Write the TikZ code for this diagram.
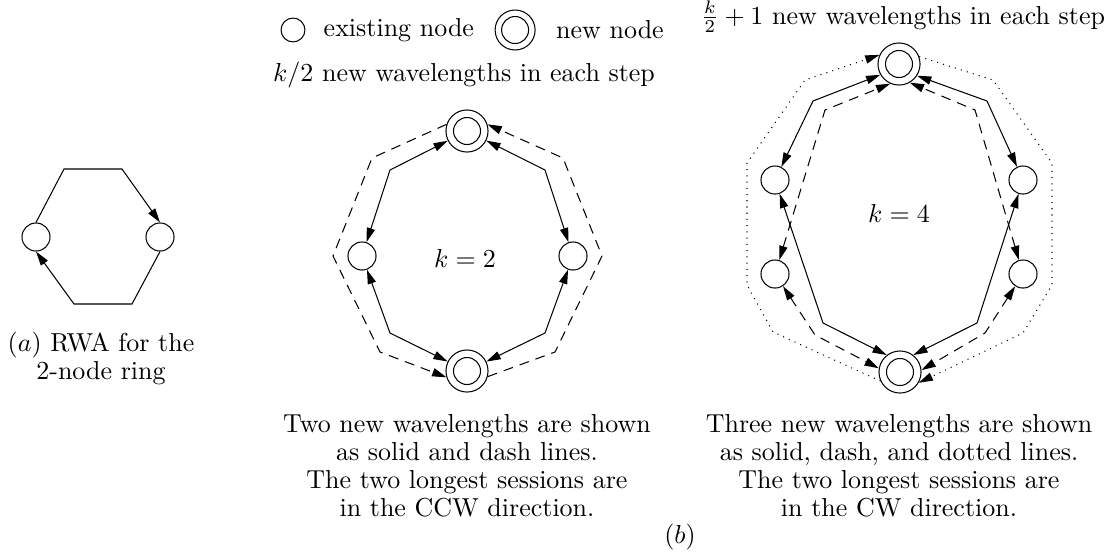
\documentclass[tikz,border=0pt]{standalone}
\usepackage{tikz}
\usetikzlibrary{arrows.meta, positioning}

\begin{document}
\begin{tikzpicture}[
    x=0.385pt, y=-0.385pt,
    every node/.style={font=\fontsize{10}{10.8}\selectfont},
    >={Triangle[length=5.5pt, width=3.2pt]},
    oldnode/.style={circle, draw, minimum size=10.8pt, inner sep=0pt},
    newnode/.style={circle, draw, minimum size=16.2pt, inner sep=0pt,
                    path picture={\draw (path picture bounding box.center) circle (5.2pt);}},
    dashline/.style={dash pattern=on 3.8pt off 2.7pt},
    dotline/.style={dotted},
    caption/.style={align=center},
]
\useasboundingbox (0,0) rectangle (1114,556);

% Legend and headings
\node[oldnode, minimum size=9.2pt] (legold) at (293,30) {};
\node[right=3.5pt of legold] (legoldtext) {existing node};
\node[newnode, minimum size=15.4pt, right=4.4pt of legoldtext] (legnew) {};
\node[right=4.4pt of legnew] (legnewtext) {new node};
\node (headtwo) at (464,75) {$k/2$ new wavelengths in each step};
\node[anchor=base] (headfour) at (903,24) {$\frac{k}{2}+1$ new wavelengths in each step};

% (a) two-node ring
\node[oldnode] (al) at (36,237) {};
\node[oldnode] (ar) at (160,237) {};
\draw[->] (al.north) -- (64,169) -- (122,169) -- (ar.north);
\draw[->] (ar.south) -- (132,304) -- (74,304) -- (al.south);
\node[caption] (capa) at (101,358) {$(a)$ RWA for the\\2-node ring};

% (b) k = 2
\node[newnode] (t1) at (467,131) {};
\node[oldnode] (l1) at (362,256) {};
\node[oldnode] (r1) at (573,256) {};
\node[newnode] (b1) at (467,371) {};
\node (ktwo) at (465,258) {$k=2$};

\draw[<->] (l1) -- (390,170) -- (t1);
\draw[<->] (r1) -- (545,170) -- (t1);
\draw[<->] (l1) -- (390,333) -- (b1);
\draw[<->] (r1) -- (545,333) -- (b1);
\draw[dashline, ->] (t1.162) -- (372,158) -- (333,256) -- (380,352) -- (b1.197);
\draw[dashline, ->] (b1.-15) -- (555,352) -- (602,256) -- (563,158) -- (t1.18);

\node[caption] (captwo) at (467,466) {Two new wavelengths are shown\\as solid and dash lines.\\The two longest sessions are\\in the CCW direction.};

% (b) k = 4
\node[newnode] (t2) at (899,64) {};
\node[oldnode] (lu) at (775,180) {};
\node[oldnode] (ru) at (1023,180) {};
\node[oldnode] (ll) at (775,274) {};
\node[oldnode] (rl) at (1023,274) {};
\node[newnode] (b2) at (900,372) {};
\node (kfour) at (899,213) {$k=4$};

\draw[<->] (lu) -- (813,101) -- (t2.210);
\draw[<->] (ru) -- (987,101) -- (t2.-33);
\draw[<->] (lu) -- (823,323) -- (b2.128);
\draw[<->] (ru) -- (977,323) -- (b2.52);
\draw[dashline, <->] (ll) -- (825,110) -- (t2.246);
\draw[dashline, <->] (rl) -- (975,110) -- (t2.-60);
\draw[dashline, <->] (ll) -- (815,335) -- (b2.170);
\draw[dashline, <->] (rl) -- (985,333) -- (b2.5);
\draw[dotline, ->] (b2.205) -- (773,332) -- (747,285) -- (747,163) -- (805,80) -- (t2.155);
\draw[dotline, ->] (t2.20) -- (993,80) -- (1052,163) -- (1052,285) -- (1023,333) -- (b2.-30);

\node[caption] (capfour) at (899,466) {Three new wavelengths are shown\\as solid, dash, and dotted lines.\\The two longest sessions are\\in the CW direction.};

\node (capb) at (680,537) {$(b)$};

\end{tikzpicture}
\end{document}
